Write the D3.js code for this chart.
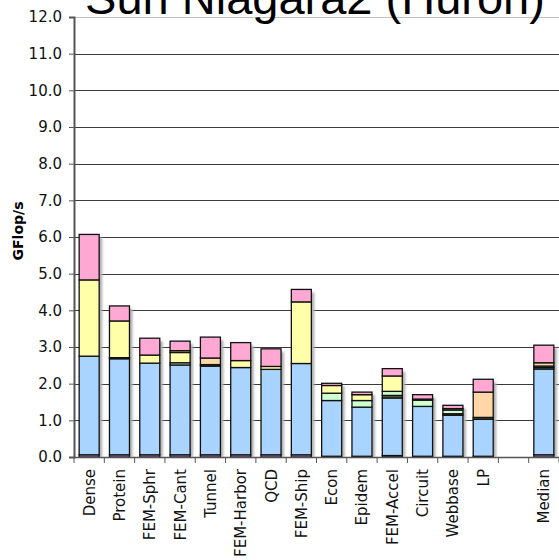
<!DOCTYPE html>
<html><head><meta charset="utf-8">
<script src="https://cdn.jsdelivr.net/npm/d3@7"></script>
<style>body{margin:0;background:#fff}svg{display:block}</style>
</head><body>
<svg id="c" width="559" height="560"></svg>
<script>
const categories = ["Dense","Protein","FEM-Sphr","FEM-Cant","Tunnel","FEM-Harbor","QCD","FEM-Ship","Econ","Epidem","FEM-Accel","Circuit","Webbase","LP","","Median"];
const purple = [0.06,0.06,0.06,0.06,0.06,0.06,0.06,0.06,0.02,0.02,0.04,0.02,0.02,0.02,0,0.06];
const blue   = [2.69,2.62,2.50,2.45,2.42,2.38,2.33,2.49,1.52,1.34,1.57,1.36,1.12,1.01,0,2.34];
const dark   = [0,0,0,0,0.04,0,0,0,0,0,0.07,0,0.04,0.05,0,0];
const green  = [0,0.03,0,0.06,0,0,0,0,0.20,0.18,0.11,0.17,0.10,0,0,0.04];
const yellow = [2.08,1.00,0.22,0.28,0,0.19,0.08,1.68,0.21,0.16,0.42,0.03,0.04,0,0,0.04];
const orange = [0,0,0,0.05,0.18,0,0,0,0,0,0,0,0,0.69,0,0.09];
const pink   = [1.24,0.41,0.46,0.26,0.57,0.49,0.48,0.34,0.06,0.07,0.20,0.12,0.09,0.35,0,0.48];
const seriesNames = ["purple","blue","dark","green","yellow","orange","pink"];
const seriesValues = [purple,blue,dark,green,yellow,orange,pink];
const seriesColors = ["#d6a8ff","#a8d4ff","#5c5c3a","#d0ffd0","#ffffaa","#ffd6a8","#ffa8d4"];
const yTicks = d3.range(0,12.5,1);
const title = "Sun Niagara2 (Huron)";
const yLabel = "GFlop/s";

(function(){
const svg = d3.select("#c");
const pl = 74, pr = 559, pt = 17, pb = 457;
const x = d3.scaleBand().domain(categories.map((c,i)=>i)).range([pl,pr]).paddingInner(0.34).paddingOuter(0.17);
const xs = d3.scaleBand().domain(categories.map((c,i)=>i)).range([pl,pr]);
const y = d3.scaleLinear().domain([0,12]).range([pb,pt]);

const defs = svg.append("defs");
defs.append("filter").attr("id","blur").append("feGaussianBlur").attr("stdDeviation",1);

// gridlines
svg.append("g").selectAll("line").data(yTicks.filter(v=>v>0)).join("line")
  .attr("x1",pl).attr("x2",pr).attr("y1",d=>Math.round(y(d))+0.5).attr("y2",d=>Math.round(y(d))+0.5)
  .attr("stroke",d=>d===12?"#c0c0c0":"#3a3a3a").attr("stroke-width",1);

// data stack
const rows = categories.map((c,i)=>{const o={i}; seriesNames.forEach((n,k)=>o[n]=seriesValues[k][i]); return o;});
const stack = d3.stack().keys(seriesNames)(rows);
const totals = rows.map(r=>seriesNames.reduce((s,n)=>s+r[n],0));

// shadows
svg.append("g").selectAll("rect").data(rows.filter(r=>totals[r.i]>0)).join("rect")
  .attr("x",r=>x(r.i)+3).attr("y",r=>y(totals[r.i])+3).attr("width",x.bandwidth())
  .attr("height",r=>y(0)-y(totals[r.i])-3).attr("fill","#b0b0b0").attr("filter","url(#blur)");

// bars
stack.forEach((s,k)=>{
  svg.append("g").selectAll("rect").data(s.filter(d=>d[1]-d[0]>0)).join("rect")
    .attr("x",d=>x(d.data.i)).attr("y",d=>y(d[1])).attr("width",x.bandwidth())
    .attr("height",d=>y(d[0])-y(d[1])).attr("fill",seriesColors[k])
    .attr("stroke","#111").attr("stroke-width",1.3);
});

// y axis
const ya = svg.append("g").attr("transform",`translate(${pl},0)`)
  .call(d3.axisLeft(y).tickValues(yTicks).tickFormat(d3.format(".1f")).tickSize(5).tickPadding(7));
ya.select(".domain").attr("stroke","#555").attr("stroke-width",2);
ya.selectAll(".tick line").attr("stroke","#555");
ya.selectAll("text").attr("font-family","DejaVu Sans, Verdana, sans-serif").attr("font-size",15).attr("fill","#111");

// x axis
svg.append("line").attr("x1",pl).attr("x2",pr).attr("y1",pb+0.5).attr("y2",pb+0.5).attr("stroke","#555").attr("stroke-width",1.5);
svg.append("g").selectAll("line").data(d3.range(categories.length+1)).join("line")
  .attr("x1",i=>pl+i*xs.step()).attr("x2",i=>pl+i*xs.step()).attr("y1",pb).attr("y2",pb+6).attr("stroke","#555");
svg.append("g").selectAll("text").data(categories).join("text")
  .attr("transform",(c,i)=>`translate(${xs(i)+xs.bandwidth()/2+5.5},469) rotate(-90)`)
  .attr("text-anchor","end").attr("font-family","DejaVu Sans, Verdana, sans-serif").attr("font-size",15).attr("fill","#111")
  .text(c=>c);

// y label
svg.append("text").attr("transform",`translate(23,${(pt+pb)/2-6}) rotate(-90)`).attr("text-anchor","middle")
  .attr("font-family","DejaVu Sans, Verdana, sans-serif").attr("font-weight","bold").attr("font-size",14).text(yLabel);

// title
svg.append("text").attr("x",315).attr("y",14).attr("text-anchor","middle")
  .attr("font-family","Liberation Sans, Arial, sans-serif").attr("font-size",47).attr("fill","#000").text(title);
})();
</script>
</body></html>
